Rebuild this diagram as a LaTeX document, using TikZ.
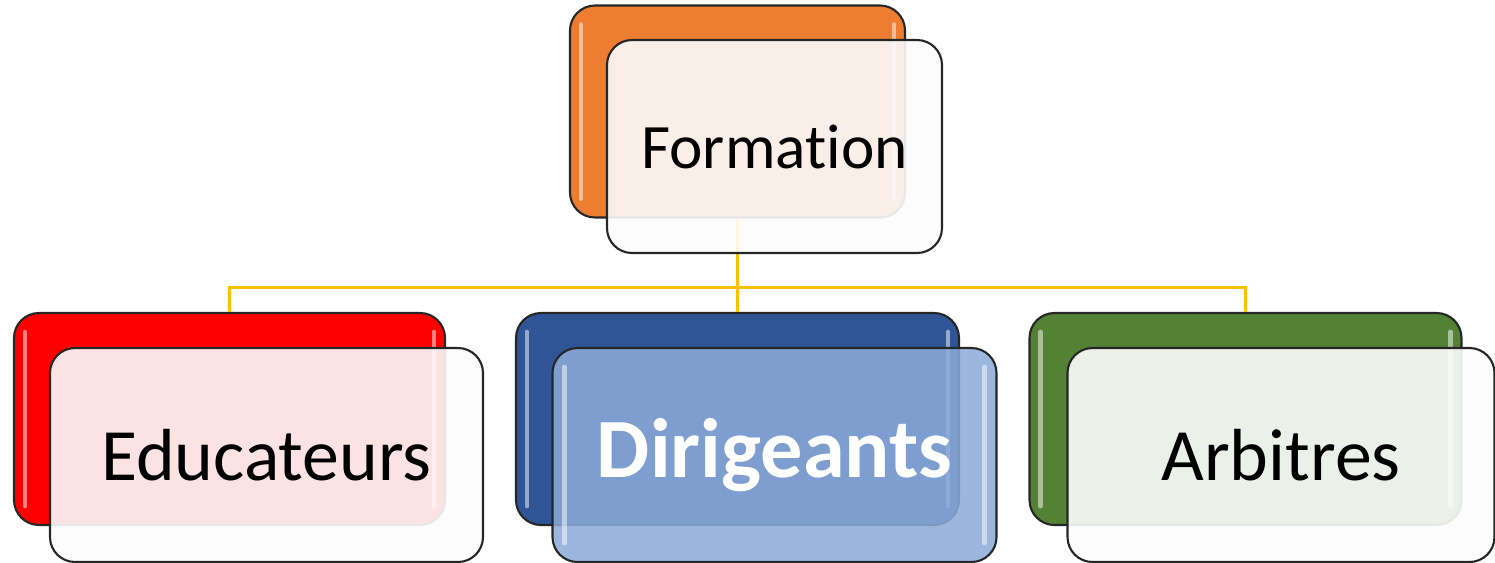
\documentclass[tikz,border=0pt]{standalone}
\usepackage{fontspec}
\setmainfont{Carlito}[Ligatures=CommonOff]
\definecolor{orangebox}{HTML}{ED7D31}
\definecolor{redbox}{HTML}{FF0000}
\definecolor{bluebox}{HTML}{2F5597}
\definecolor{greenbox}{HTML}{548235}
\definecolor{bluefront}{HTML}{8CABD9}
\definecolor{palefront}{HTML}{FCFCFC}
\definecolor{boxline}{HTML}{262626}
\definecolor{linkgold}{HTML}{FFC000}
\tikzset{
  back/.style={draw=boxline, line width=.6pt, rounded corners=.25cm,
    minimum height=2.12cm, inner sep=0pt},
  front/.style={draw=boxline, line width=.6pt, rounded corners=.25cm,
    minimum height=2.14cm, inner sep=0pt, fill=palefront, fill opacity=.9,
    text opacity=1, font=\fontsize{21}{25}\selectfont},
  gloss/.style={white, opacity=.5, line width=1.3pt, line cap=round}
}
\begin{document}
\begin{tikzpicture}[level distance=3.075cm,
  level 1/.style={sibling distance=5.08cm},
  edge from parent/.style={draw=linkgold, line width=.9pt},
  edge from parent path={(\tikzparentnode.south) -- ++(0,-.69) -| (\tikzchildnode.north)}]
  \useasboundingbox (0,0) rectangle (14.95,-5.62);
  \node[back, fill=orangebox, minimum width=3.35cm] (formation) at (7.375,-1.115) {}
    child {node[back, fill=redbox, minimum width=4.31cm] (educ) {}}
    child {node[back, fill=bluebox, minimum width=4.43cm] (dirig) {}}
    child {node[back, fill=greenbox, minimum width=4.32cm] (arb) {}};
  \foreach \n in {formation,educ,dirig,arb} {
    \draw[gloss] ([xshift=.12cm,yshift=-.2cm]\n.north west) -- ([xshift=.12cm,yshift=.2cm]\n.south west);
    \draw[gloss] ([xshift=-.12cm,yshift=-.2cm]\n.north east) -- ([xshift=-.12cm,yshift=.2cm]\n.south east);
  }
  \node[front, minimum width=3.35cm, minimum height=2.13cm, font=\fontsize{18}{22}\selectfont]
    (formation-f) at ([xshift=.37cm,yshift=-.35cm]formation) {Formation};
  \node[front, minimum width=4.33cm] (educ-f) at ([xshift=.37cm,yshift=-.36cm]educ) {Educateurs};
  \node[front, minimum width=4.44cm, fill=bluefront, fill opacity=.86, text=white,
    font=\fontsize{24}{28}\selectfont\bfseries] (dirig-f) at ([xshift=.37cm,yshift=-.36cm]dirig) {Dirigeants};
  \node[front, minimum width=4.27cm] (arb-f) at ([xshift=.355cm,yshift=-.36cm]arb) {Arbitres};
  \draw[gloss] ([xshift=.13cm,yshift=-.2cm]dirig-f.north west) -- ([xshift=.13cm,yshift=.2cm]dirig-f.south west);
  \draw[gloss] ([xshift=-.13cm,yshift=-.2cm]dirig-f.north east) -- ([xshift=-.13cm,yshift=.2cm]dirig-f.south east);
\end{tikzpicture}
\end{document}
